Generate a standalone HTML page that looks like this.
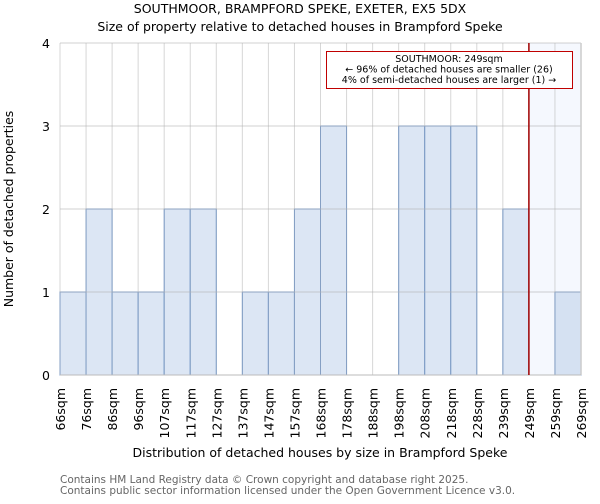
<!DOCTYPE html>
<html><head><meta charset="utf-8"><style>
body{margin:0;background:#fff;font-family:"DejaVu Sans","Liberation Sans",sans-serif}
</style></head><body>
<svg id="chart" width="600" height="500" xmlns="http://www.w3.org/2000/svg" font-family="DejaVu Sans, Liberation Sans, sans-serif">
<text x="300" y="13" text-anchor="middle" font-size="12.5">SOUTHMOOR, BRAMPFORD SPEKE, EXETER, EX5 5DX</text>
<text x="300" y="31" text-anchor="middle" font-size="12.5">Size of property relative to detached houses in Brampford Speke</text>
<g id="plot"></g>
<text transform="translate(13,209) rotate(-90)" text-anchor="middle" font-size="12.5">Number of detached properties</text>
<text x="320" y="457" text-anchor="middle" font-size="12.5">Distribution of detached houses by size in Brampford Speke</text>
<text x="60" y="483" font-size="10.5" fill="#666">Contains HM Land Registry data © Crown copyright and database right 2025.</text>
<text x="60" y="494" font-size="10.5" fill="#666">Contains public sector information licensed under the Open Government Licence v3.0.</text>
</svg>
<script>
const edgeLabels=["66sqm","76sqm","86sqm","96sqm","107sqm","117sqm","127sqm","137sqm","147sqm","157sqm","168sqm","178sqm","188sqm","198sqm","208sqm","218sqm","228sqm","239sqm","249sqm","259sqm","269sqm"];
const counts=[1,2,1,1,2,2,0,1,1,2,3,0,0,3,3,3,0,2,0,1];
const yTicks=[0,1,2,3,4];
const markerIndex=18;
const NS="http://www.w3.org/2000/svg";
const g=document.getElementById('plot');
const X0=60,X1=581,Y0=375,Y1=43;
const bw=(X1-X0)/counts.length;
const xs=i=>X0+i*bw;
const ys=v=>Y0-(v/4)*(Y0-Y1);
function mk(t,a){const e=document.createElementNS(NS,t);for(const k in a)e.setAttribute(k,a[k]);g.appendChild(e);return e;}
let e=mk('rect',{x:xs(markerIndex),y:Y1,width:X1-xs(markerIndex),height:Y0-Y1,fill:'#f5f8fe'});


counts.forEach((c,i)=>{
 if(!c)return;
 e=mk('rect',{x:xs(i),y:ys(c),width:bw,height:Y0-ys(c),fill:i>=markerIndex?'#d5e1f2':'#dce6f4',stroke:'#5b8fd6','stroke-width':1});
 
 
});
edgeLabels.forEach((l,i)=>{
 e=mk('line',{x1:xs(i),x2:xs(i),y1:Y1,y2:Y0,stroke:'#b0b0b0','stroke-opacity':0.5,'stroke-width':1});
 
 
 e=mk('text',{transform:`translate(${xs(i)+5},388) rotate(-90)`,'text-anchor':'end','font-size':12.5});
 e.textContent=l;
 
 
});
yTicks.forEach(v=>{
 e=mk('line',{x1:X0,x2:X1,y1:ys(v),y2:ys(v),stroke:'#b0b0b0','stroke-opacity':0.6,'stroke-width':1});
 
 
 e=mk('text',{x:50,y:ys(v)+5,'text-anchor':'end','font-size':12.5});
 e.textContent=v;
 
 
});
e=mk('line',{x1:X1,x2:X1,y1:Y1,y2:Y0,stroke:'#ccc','stroke-width':1.5});


e=mk('line',{x1:X0,x2:X1,y1:Y0,y2:Y0,stroke:'#bbb','stroke-width':1});


e=mk('line',{x1:xs(markerIndex),x2:xs(markerIndex),y1:Y1,y2:Y0,stroke:'#a00000','stroke-width':1.5});


e=mk('rect',{x:326.5,y:51.5,width:246,height:37,fill:'#fff',stroke:'#c00000','stroke-width':1});


["SOUTHMOOR: 249sqm","← 96% of detached houses are smaller (26)","4% of semi-detached houses are larger (1) →"].forEach((t,k)=>{
 e=mk('text',{x:449,y:62+k*10.5,'text-anchor':'middle','font-size':9.5});
 e.textContent=t;
 
 
});
</script>
</body></html>
